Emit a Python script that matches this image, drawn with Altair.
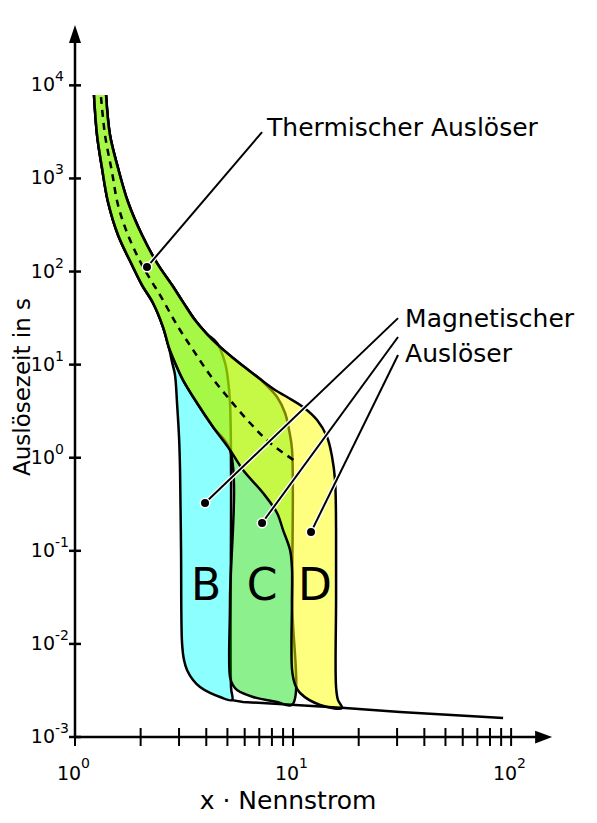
import altair as alt
import pandas as pd

FONT = "DejaVu Sans"

# ---------------- axis extents (data units) ----------------
X_MIN, X_MAX = 1.0, 154.0
Y_MIN, Y_MAX = 1e-3, 44500.0
X_ARROW = 141.0      # centre of the x-axis arrow head
Y_ARROW = 35560.0    # centre of the y-axis arrow head

# ---------------- thermal band ----------------
lt_x = [1.222, 1.262, 1.330, 1.417, 1.575, 1.826, 2.029, 2.279, 2.533, 2.699]
lt_y = [7870, 2926, 1294, 558, 246.6, 117.4, 71.6, 45.9, 25.3, 15.1]

ut_x = [1.388, 1.447, 1.575, 1.750, 2.029, 2.378, 2.786, 3.129, 3.552, 4.032,
        4.626, 5.306, 6.152, 7.059, 8.268, 9.387, 11.11, 12.89, 14.32, 15.10,
        15.58, 15.75, 15.75, 15.75, 16.08]
ut_y = [7870, 2926, 1294, 558, 246.6, 123.4, 71.6, 47.0, 30.1, 21.3,
        15.5, 11.8, 8.97, 7.00, 5.33, 4.49, 3.51, 2.54, 1.67, 1.02,
        0.575, 0.167, 0.0297, 0.00344, 0.00249]

# dashed middle curve of the thermal release
mid_x = [1.316, 1.373, 1.478, 1.575, 1.750, 2.029, 2.256, 2.455, 2.937, 3.478,
         4.162, 5.140, 6.351, 7.845, 10.54]
mid_y = [7490, 2926, 1172, 518, 246.6, 117.4, 77.1, 55.9, 26.6, 14.4,
         7.73, 4.17, 2.36, 1.44, 0.877]

# ---------------- magnetic release B ----------------
bl_x = [2.786, 2.875, 2.937, 3.000, 3.032, 3.064, 3.097, 3.162, 3.264, 3.478,
        3.745, 4.162, 4.626, 5.25]
bl_y = [10.7, 7.73, 3.87, 1.67, 0.738, 0.102, 0.0102, 0.00671, 0.00525, 0.00409,
        0.00344, 0.00297, 0.00269, 0.00249]
br_x = [5.195, 5.195, 5.14, 5.032, 4.88, 4.48]
br_y = [0.0034, 0.738, 3.87, 6.83, 10.4, 17.1]

# ---------------- lower edge continuing to C and D ----------------
lb_x = [2.906, 3.129, 3.627, 4.296, 5.140, 5.896, 7.285, 8.445, 9.0, 9.688,
        9.895, 9.895, 10.23, 10.77, 13.30, 16.78]
lb_y = [9.90, 6.83, 3.87, 2.14, 1.21, 0.738, 0.418, 0.255, 0.167, 0.102,
        0.0622, 0.00525, 0.00362, 0.00297, 0.00221, 0.00205]

# ---------------- magnetic release C ----------------
cl_x = [5.140, 5.140, 5.30, 5.535, 6.554, 8.445, 9.895]
cl_y = [0.0297, 0.0044, 0.0036, 0.0032, 0.00269, 0.00238, 0.00222]
cr_x = [9.895, 9.895, 9.587, 9.19, 8.445, 7.285]
cr_y = [0.03, 1.21, 1.99, 3.02, 4.49, 6.5]

# common bottom line
bot_x = [5.25, 5.896, 17.32, 30.96, 91.9]
bot_y = [0.00249, 0.00238, 0.00205, 0.00186, 0.0016]

# ---------------- axes ----------------
x_tick_vals = [1, 2, 3, 4, 5, 6, 7, 8, 9, 10, 20, 30, 40, 50, 60, 70, 80, 90, 100]
x_label_vals = [1, 10, 100]
x_label_exp = ["0", "1", "2"]
y_tick_vals = [1e-3, 1e-2, 1e-1, 1, 10, 100, 1000, 10000]
y_label_exp = ["-3", "-2", "-1", "0", "1", "2", "3", "4"]

# ---------------- annotations ----------------
dots_name = ["T", "B", "C", "D"]
dots_x = [2.139, 3.947, 7.209, 12.09]
dots_y = [111.8, 0.326, 0.199, 0.159]
lead_end_x = [7.209, 30.3, 30.3, 30.3]
lead_end_y = [3150, 31.6, 19.8, 12.7]

ann_text = ["Thermischer Auslöser", "Magnetischer", "Auslöser"]
ann_x = [7.60, 32.65, 32.65]
ann_y = [3476, 30.9, 13.0]

letters = ["B", "C", "D"]
letters_x = [3.99, 7.21, 12.61]
letters_y = [0.0405, 0.0405, 0.0405]

# ============================================================
xs = alt.Scale(type="log", domain=[X_MIN, X_MAX], nice=False)
ys = alt.Scale(type="log", domain=[Y_MIN, Y_MAX], nice=False)


def X(f="x"):
    return alt.X(f"{f}:Q", scale=xs, axis=None)


def Y(f="y"):
    return alt.Y(f"{f}:Q", scale=ys, axis=None)


def path_df(xv, yv):
    return pd.DataFrame({"x": xv, "y": yv, "i": list(range(len(xv)))})


def polygon(xv, yv, color, op):
    return alt.Chart(path_df(xv, yv)).mark_line(
        interpolate="catmull-rom", fill=color, fillOpacity=op,
        stroke="black", strokeWidth=2.5, strokeJoin="round"
    ).encode(x=X(), y=Y(), order="i:Q")


n_ut_b = 10
n_ut_c = 14
poly_b = polygon(lt_x + bl_x + br_x + ut_x[:n_ut_b][::-1],
                 lt_y + bl_y + br_y + ut_y[:n_ut_b][::-1], "#00ffff", 0.45)
poly_c = polygon(lt_x + lb_x[:5] + cl_x + cr_x + ut_x[:n_ut_c][::-1],
                 lt_y + lb_y[:5] + cl_y + cr_y + ut_y[:n_ut_c][::-1], "#00e000", 0.45)
poly_d = polygon(lt_x + lb_x + ut_x[::-1],
                 lt_y + lb_y + ut_y[::-1], "#ffff00", 0.5)

dashed = alt.Chart(path_df(mid_x, mid_y)).mark_line(
    interpolate="catmull-rom", stroke="black", strokeWidth=2.5, strokeDash=[7, 6]
).encode(x=X(), y=Y(), order="i:Q")

bottom = alt.Chart(path_df(bot_x, bot_y)).mark_line(
    stroke="black", strokeWidth=2.5
).encode(x=X(), y=Y(), order="i:Q")

axes_df = pd.DataFrame({
    "x": [X_MIN, X_MIN, X_MIN, X_ARROW],
    "y": [Y_MIN, Y_ARROW, Y_MIN, Y_MIN],
    "axis": ["y", "y", "x", "x"],
    "i": [0, 1, 0, 1],
})
axes_lines = alt.Chart(axes_df).mark_line(stroke="black", strokeWidth=2.5).encode(
    x=X(), y=Y(), detail="axis:N", order="i:Q")

arrow_up = alt.Chart(pd.DataFrame({"x": [X_MIN], "y": [Y_ARROW]})).mark_point(
    shape="M0,-1L-0.667,1L0.667,1Z", size=324, filled=True, fill="black",
    strokeWidth=0, opacity=1).encode(x=X(), y=Y())
arrow_right = alt.Chart(pd.DataFrame({"x": [X_ARROW], "y": [Y_MIN]})).mark_point(
    shape="M1,0L-1,-0.75L-1,0.75Z", size=289, filled=True, fill="black",
    strokeWidth=0, opacity=1).encode(x=X(), y=Y())

xt_df = pd.DataFrame({"x": x_tick_vals, "y": [Y_MIN] * len(x_tick_vals)})
x_ticks = alt.Chart(xt_df).mark_tick(orient="vertical", size=18, thickness=2,
                                     color="black", opacity=1).encode(x=X(), y=Y())
yt_df = pd.DataFrame({"x": [X_MIN] * len(y_tick_vals), "y": y_tick_vals})
y_ticks = alt.Chart(yt_df).mark_tick(orient="horizontal", size=12, thickness=2.5,
                                     color="black", opacity=1).encode(x=X(), y=Y())

xl_df = pd.DataFrame({"x": x_label_vals, "y": [Y_MIN] * 3, "e": x_label_exp})
x_lab = alt.Chart(xl_df).mark_text(text="10", font=FONT, fontSize=19, align="center",
                                   baseline="middle", dx=-6, dy=37).encode(x=X(), y=Y())
x_exp = alt.Chart(xl_df).mark_text(font=FONT, fontSize=14, align="left",
                                   baseline="middle", dx=6, dy=27).encode(
    x=X(), y=Y(), text="e:N")

yl_df = pd.DataFrame({"x": [X_MIN] * len(y_tick_vals), "y": y_tick_vals, "e": y_label_exp})
y_lab = alt.Chart(yl_df).mark_text(text="10", font=FONT, fontSize=19, align="right",
                                   baseline="middle", dx=-20).encode(x=X(), y=Y())
y_exp = alt.Chart(yl_df).mark_text(font=FONT, fontSize=14, align="left",
                                   baseline="middle", dx=-20, dy=-8).encode(
    x=X(), y=Y(), text="e:N")

title_df = pd.DataFrame({"t": ["x · Nennstrom"]})
x_title = alt.Chart(title_df).mark_text(font=FONT, fontSize=25, align="center",
                                        baseline="middle").encode(
    x=alt.value(213), y=alt.value(776), text="t:N")
ytitle_df = pd.DataFrame({"t": ["Auslösezeit in s"]})
y_title = alt.Chart(ytitle_df).mark_text(font=FONT, fontSize=23, align="center",
                                         baseline="middle", angle=270).encode(
    x=alt.value(-52), y=alt.value(362), text="t:N")

lead_rows = []
for k in range(len(dots_name)):
    lead_rows.append({"id": dots_name[k], "i": 0, "x": dots_x[k], "y": dots_y[k]})
    lead_rows.append({"id": dots_name[k], "i": 1, "x": lead_end_x[k], "y": lead_end_y[k]})
lead_df = pd.DataFrame(lead_rows)
lead_halo = alt.Chart(lead_df).mark_line(stroke="white", strokeWidth=4.5).encode(
    x=X(), y=Y(), detail="id:N", order="i:Q")
lead = alt.Chart(lead_df).mark_line(stroke="black", strokeWidth=2).encode(
    x=X(), y=Y(), detail="id:N", order="i:Q")

dots_df = pd.DataFrame({"x": dots_x, "y": dots_y})
dots = alt.Chart(dots_df).mark_point(shape="circle", size=90, filled=True, fill="black",
                                     stroke="white", strokeWidth=1.5, opacity=1).encode(
    x=X(), y=Y())

ann_df = pd.DataFrame({"x": ann_x, "y": ann_y, "t": ann_text})
ann = alt.Chart(ann_df).mark_text(font=FONT, fontSize=25, align="left",
                                  baseline="middle").encode(x=X(), y=Y(), text="t:N")

let_df = pd.DataFrame({"x": letters_x, "y": letters_y, "t": letters})
lets = alt.Chart(let_df).mark_text(font=FONT, fontSize=44, align="center",
                                   baseline="middle").encode(x=X(), y=Y(), text="t:N")

chart = alt.layer(
    poly_b, poly_c, poly_d, dashed, bottom,
    axes_lines, arrow_up, arrow_right, x_ticks, y_ticks,
    x_lab, x_exp, y_lab, y_exp, x_title, y_title,
    lets, lead_halo, lead, dots, ann,
).properties(
    width=477, height=712,
    padding={"left": 67, "top": 17, "right": 35, "bottom": 78},
    autosize=alt.AutoSizeParams(type="none"),
    background="white",
).configure_view(stroke=None)

chart.save("out.html", embed_options={"renderer": "svg", "actions": False})
